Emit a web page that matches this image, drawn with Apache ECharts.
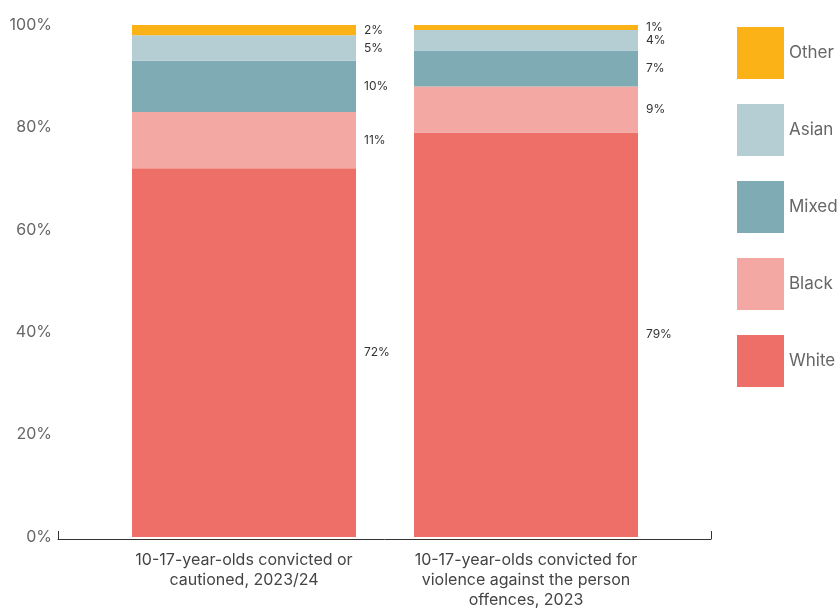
<!DOCTYPE html>
<html>
<head>
<meta charset="utf-8">
<script src="https://cdn.jsdelivr.net/npm/echarts@6/dist/echarts.min.js"></script>
<style>
  html, body { margin: 0; padding: 0; background: #fff; }
  #chart { width: 840px; height: 610px; }
</style>
</head>
<body>
<div id="chart"></div>
<script>
// Share of 10-17-year-olds by ethnic group, two cohorts
const categories = [
  '10-17-year-olds convicted or\ncautioned, 2023/24',
  '10-17-year-olds convicted for\nviolence against the person\noffences, 2023'
];
const white = [72, 79];
const black = [11, 9];
const mixed = [10, 7];
const asian = [5, 4];
const other = [2, 1];
const yTicks = [0, 20, 40, 60, 80, 100];

const colors = {
  White: '#ED6F68',
  Black: '#F3A8A3',
  Mixed: '#7FABB4',
  Asian: '#B5CED3',
  Other: '#FAB216'
};

const font = 'Inter, "Noto Sans", sans-serif';

function seg(name, values) {
  return {
    name: name,
    type: 'bar',
    stack: 'total',
    xAxisIndex: 0,
    yAxisIndex: 0,
    barWidth: 224,
    data: values,
    itemStyle: { color: colors[name] },
    label: {
      show: true,
      position: 'right',
      distance: 8,
      formatter: '{c}%',
      fontFamily: font,
      fontSize: 12,
      color: '#333'
    },
    emphasis: { disabled: true }
  };
}

const chart = echarts.init(document.getElementById('chart'), null, { renderer: 'canvas' });
chart.setOption({
  animation: false,
  textStyle: { fontFamily: font },
  grid: [
    { left: 103, right: 173, top: 25, bottom: 71 },
    { left: 58, right: 129, top: 25, bottom: 71 }
  ],
  legend: {
    orient: 'vertical',
    left: 737,
    top: 27,
    padding: 0,
    itemWidth: 47,
    itemHeight: 52,
    itemGap: 25,
    icon: 'rect',
    data: ['Other', 'Asian', 'Mixed', 'Black', 'White'],
    textStyle: { fontFamily: font, fontSize: 17, color: '#666' },
    selectedMode: false
  },
  xAxis: [
    {
      type: 'category',
      gridIndex: 0,
      data: categories,
      axisLine: { show: false },
      axisTick: { show: false },
      axisLabel: {
        interval: 0,
        margin: 13,
        fontFamily: font,
        fontSize: 16,
        lineHeight: 20,
        color: '#444'
      }
    },
    {
      // baseline drawn across the wider span with end ticks pointing up
      type: 'value',
      gridIndex: 1,
      min: 0,
      max: 1,
      interval: 1,
      axisLine: { show: true, lineStyle: { color: '#333', width: 1 } },
      axisTick: { show: true, inside: true, length: 8, lineStyle: { color: '#333' } },
      axisLabel: { show: false },
      splitLine: { show: false }
    }
  ],
  yAxis: [
    {
      type: 'value',
      gridIndex: 0,
      min: yTicks[0],
      max: yTicks[yTicks.length - 1],
      interval: 20,
      axisLine: { show: false },
      axisTick: { show: false },
      splitLine: { show: false },
      axisLabel: {
        margin: 51,
        formatter: v => v + '%',
        fontFamily: font,
        fontSize: 16,
        color: '#666'
      }
    },
    {
      type: 'value',
      gridIndex: 1,
      min: 0,
      max: 1,
      show: false
    }
  ],
  series: [
    seg('White', white),
    seg('Black', black),
    seg('Mixed', mixed),
    seg('Asian', asian),
    seg('Other', other)
  ]
});
</script>
</body>
</html>
